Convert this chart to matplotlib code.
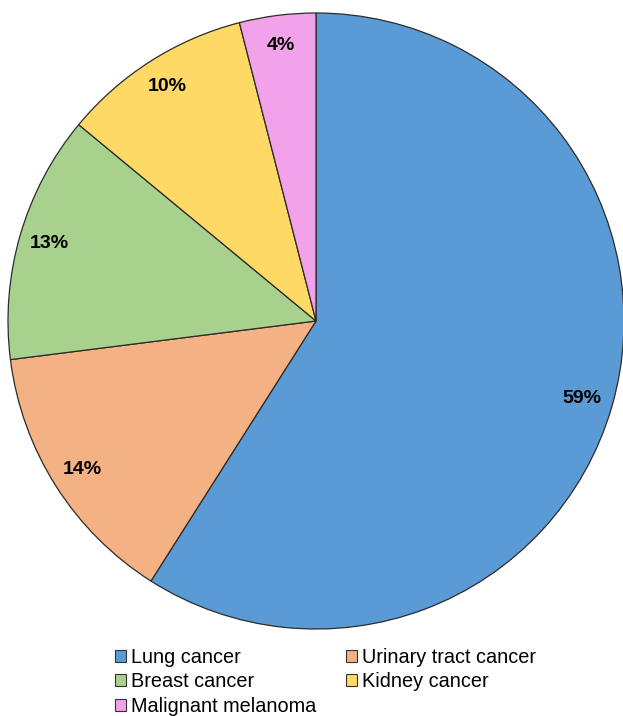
import matplotlib.pyplot as plt
from matplotlib.patches import Patch

plt.rcParams['font.family'] = ['Liberation Sans', 'DejaVu Sans']

# data
labels = ["Lung cancer", "Urinary tract cancer", "Breast cancer", "Kidney cancer", "Malignant melanoma"]
shares = [59, 14, 13, 10, 4]
colors = ["#5B9BD5", "#F4B183", "#A9D18E", "#FFD966", "#F2A2E8"]

fig = plt.figure(figsize=(6.23, 7.16), dpi=100)
ax = fig.add_axes([8 / 623, 87 / 716, 616 / 623, 616 / 716])

wedges, texts, autotexts = ax.pie(
    shares, colors=colors, startangle=90, counterclock=False,
    autopct=lambda p: f"{p:.0f}%", pctdistance=0.9,
    wedgeprops=dict(edgecolor="#2b2b2b", linewidth=0.9),
    textprops=dict(fontsize=14, fontweight="bold", color="black"),
)
ax.set_xlim(-1, 1)
ax.set_ylim(-1, 1)
ax.set_aspect("equal")

# legend rows read left to right, matplotlib fills by column
order = [0, 2, 4, 1, 3]
handles = [Patch(facecolor=colors[i], edgecolor="#333333", linewidth=0.8) for i in order]
fig.legend(handles, [labels[i] for i in order], ncol=2, loc="upper left",
           bbox_to_anchor=(105 / 623, 1 - 638 / 716),
           frameon=False, fontsize=14.3, handlelength=0.55, handleheight=0.55,
           handletextpad=0.25, columnspacing=1.5, labelspacing=0.27, borderpad=0)

fig.savefig("out.png", dpi=100)
